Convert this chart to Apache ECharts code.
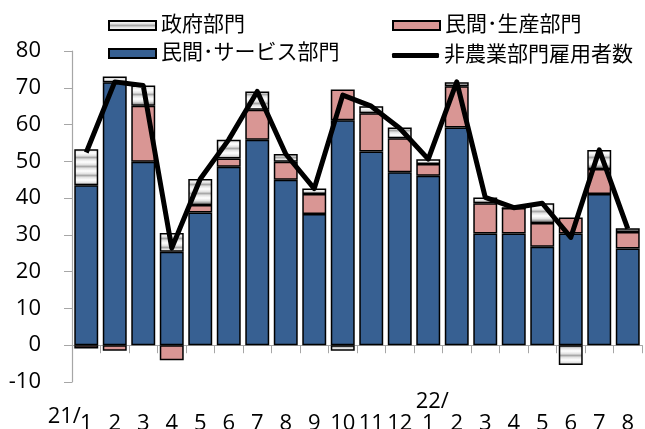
<!DOCTYPE html>
<html><head><meta charset="utf-8">
<script src="https://cdn.jsdelivr.net/npm/echarts@6/dist/echarts.min.js"></script>
<style>html,body{margin:0;padding:0;background:#fff}#c{width:645px;height:429px}</style>
</head><body><div id="c"></div>
<script>
const months = ['1','2','3','4','5','6','7','8','9','10','11','12','1','2','3','4','5','6','7','8'];
const yearLabels = ['21/','','','','','','','','','','','','22/','','','','','','',''];
const service = [43.5, 71.5, 49.9, 25.4, 36.1, 48.5, 55.9, 45.0, 35.7, 61.2, 52.7, 47.0, 46.1, 59.2, 30.4, 30.4, 26.8, 30.4, 41.1, 26.3];
const goods   = [-0.9, -1.5, 15.2, -4.1, 2.0, 2.3, 8.1, 4.9, 5.4, 8.3, 10.4, 9.3, 3.2, 11.2, 8.2, 6.9, 6.4, 4.3, 6.8, 4.5];
const gov     = [9.8, 1.6, 5.5, 5.1, 7.1, 5.1, 5.0, 2.1, 1.5, -1.5, 1.9, 2.9, 1.3, 1.1, 1.6, 0, 5.4, -5.4, 5.2, 1.0];
const total   = [52.4, 71.6, 70.6, 26.4, 45.2, 55.9, 69.0, 52.0, 42.6, 68.0, 65.0, 59.0, 50.6, 71.6, 40.2, 37.4, 38.6, 29.3, 53.1, 31.7];
const names = ['政府部門', '民間･生産部門', '民間･サービス部門', '非農業部門雇用者数'];

const pc = document.createElement('canvas');
pc.width = 8; pc.height = 9;
const g = pc.getContext('2d');
const grd = g.createLinearGradient(0, 0, 0, 9);
grd.addColorStop(0, '#ffffff');
grd.addColorStop(0.3, '#e2e2e2');
grd.addColorStop(0.5, '#a8a8a8');
grd.addColorStop(0.7, '#e2e2e2');
grd.addColorStop(1, '#ffffff');
g.fillStyle = grd; g.fillRect(0, 0, 8, 9);
const stripe = {image: pc, repeat: 'repeat'};

const FONT = "'Open Sans', 'Noto Sans CJK JP', sans-serif";
const chart = echarts.init(document.getElementById('c'), null, {renderer: 'canvas'});
const legendBase = {itemWidth: 47, itemHeight: 9, itemGap: 5,
  textStyle: {fontSize: 21, color: '#000', fontFamily: FONT}};
const barBorder = {borderColor: '#000', borderWidth: 1.5};
chart.setOption({
  animation: false,
  textStyle: {fontFamily: FONT},
  legend: [
    Object.assign({left: 103, top: 10, data: [{name: names[0], icon: 'rect'}]}, legendBase),
    Object.assign({left: 387, top: 10, data: [{name: names[1], icon: 'rect'}]}, legendBase),
    Object.assign({left: 103, top: 38, data: [{name: names[2], icon: 'rect'}]}, legendBase),
    Object.assign({left: 387, data: [{name: names[3], icon: 'roundRect', itemStyle: {color: '#000'}}]}, legendBase, {itemHeight: 5, top: 40})
  ],
  grid: {left: 72, right: 3, top: 51, bottom: 47, containLabel: false, outerBoundsMode: 'none'},
  xAxis: [{
    type: 'category', data: months, boundaryGap: true,
    axisLine: {onZero: true, lineStyle: {color: '#a6a6a6', width: 1.2}},
    axisTick: {show: true, length: 8, lineStyle: {color: '#a6a6a6'}},
    axisLabel: {interval: 0, margin: 31, fontSize: 22, color: '#000', fontFamily: FONT}
  }, {
    type: 'category', data: yearLabels, position: 'bottom',
    axisLine: {show: false, onZero: false}, axisTick: {show: false},
    axisLabel: {interval: 0, margin: 0, fontSize: 22, color: '#000', fontFamily: FONT,
      formatter: function (v, i) { return v ? (i === 0 ? '{a|' + v + '}' : '{b|' + v + '}') : ''; },
      rich: {a: {fontSize: 22, padding: [24, 44, 0, 0], fontFamily: FONT},
             b: {fontSize: 22, padding: [9, 0, 0, 8], fontFamily: FONT}}}
  }],
  yAxis: {
    type: 'value', min: -10, max: 80, interval: 10,
    splitLine: {show: false},
    axisLine: {show: true, lineStyle: {color: '#a6a6a6', width: 1.2}},
    axisTick: {show: true, length: 8, lineStyle: {color: '#a6a6a6'}},
    axisLabel: {margin: 31, fontSize: 22, color: '#000', fontFamily: FONT}
  },
  series: [
    {name: names[2], type: 'bar', stack: 't', data: service, barCategoryGap: '16%',
     itemStyle: Object.assign({color: '#376092'}, barBorder)},
    {name: names[1], type: 'bar', stack: 't', data: goods,
     itemStyle: Object.assign({color: '#d99694'}, barBorder)},
    {name: names[0], type: 'bar', stack: 't', data: gov,
     itemStyle: Object.assign({color: stripe}, barBorder)},
    {name: names[3], type: 'line', data: total, symbol: 'none', z: 5,
     lineStyle: {color: '#000', width: 5, join: 'round'}, itemStyle: {color: '#000'}}
  ]
});
</script></body></html>
